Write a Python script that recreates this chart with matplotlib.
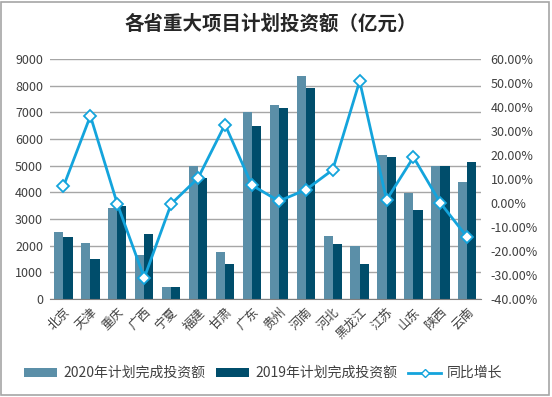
import matplotlib
matplotlib.use("Agg")
import matplotlib.pyplot as plt
from matplotlib.patches import Rectangle
from matplotlib.lines import Line2D
from matplotlib.ticker import FuncFormatter
import numpy as np

plt.rcParams['font.family'] = ['Noto Sans CJK SC', 'DejaVu Sans']

provinces = ['北京', '天津', '重庆', '广西', '宁夏', '福建', '甘肃', '广东',
             '贵州', '河南', '河北', '黑龙江', '江苏', '山东', '陕西', '云南']
invest_2020 = [2500, 2090, 3400, 1660, 460, 4970, 1750, 7010,
               7270, 8350, 2380, 1980, 5410, 3980, 4980, 4370]
invest_2019 = [2330, 1510, 3470, 2430, 460, 4540, 1300, 6480,
               7180, 7930, 2080, 1300, 5320, 3330, 4980, 5120]
growth = [6.9, 36.3, -0.4, -31.2, -0.4, 10.4, 32.7, 7.4,
          0.8, 5.5, 13.8, 50.8, 1.3, 19.1, 0.0, -14.3]

c2020 = '#5b8fa8'
c2019 = '#004d6b'
cline = '#14a4dc'

fig = plt.figure(figsize=(5.52, 3.97), dpi=100)
ax = fig.add_axes([0.0906, 0.2469, 0.7804, 0.6045])

x = np.arange(len(provinces))
w = 0.34
ax.bar(x - w / 2, invest_2020, w, color=c2020, label='2020年计划完成投资额', zorder=2)
ax.bar(x + w / 2, invest_2019, w, color=c2019, label='2019年计划完成投资额', zorder=2)

ax.set_xlim(-0.5, len(provinces) - 0.5)
ax.set_ylim(0, 9000)
ax.set_yticks(range(0, 9001, 1000))
ax.yaxis.grid(True, color='#a6a6a6', linewidth=1.0, zorder=0)
ax.set_axisbelow(True)
for s in ['top', 'left', 'right']:
    ax.spines[s].set_visible(False)
ax.spines['bottom'].set_color('#808080')
ax.tick_params(axis='y', length=0, labelsize=9, colors='#404040', pad=5)
ax.tick_params(axis='x', length=0, labelsize=9, colors='#404040', pad=5)
ax.set_xticks(x)
ax.set_xticklabels(provinces, rotation=45, ha='right', rotation_mode='anchor')

ax2 = ax.twinx()
ax2.plot(x, growth, color=cline, linewidth=2.0, marker='D', markersize=6,
         markerfacecolor='white', markeredgecolor=cline, markeredgewidth=1.3,
         zorder=3)
ax2.set_ylim(-40, 60)
ax2.set_yticks(range(-40, 61, 10))
ax2.yaxis.set_major_formatter(FuncFormatter(lambda v, p: '{:.2f}%'.format(v)))
ax2.tick_params(axis='y', length=0, labelsize=9, colors='#404040', pad=7)
for s in ['top', 'left', 'right', 'bottom']:
    ax2.spines[s].set_visible(False)

fig.suptitle('各省重大项目计划投资额（亿元）', x=0.49, y=0.965, fontsize=14, fontweight='bold',
             color='#262626')

h1, l1 = ax.get_legend_handles_labels()
line_handle = Line2D([], [], color=cline, linewidth=2.0, marker='D', markersize=4.5,
                     markerfacecolor='white', markeredgecolor=cline, markeredgewidth=1.0)
fig.legend(h1 + [line_handle], l1 + ['同比增长'], loc='center', bbox_to_anchor=(0.477, 0.06),
           ncol=3, frameon=False, fontsize=10, handlelength=2.4, handleheight=0.6,
           handletextpad=0.4, columnspacing=0.8, labelcolor='#404040')

fig.patches.append(Rectangle((0.002, 0.006), 0.992, 0.99, transform=fig.transFigure,
                             fill=False, edgecolor='#a6a6a6', linewidth=1.2))

fig.savefig('out.png', dpi=100)
